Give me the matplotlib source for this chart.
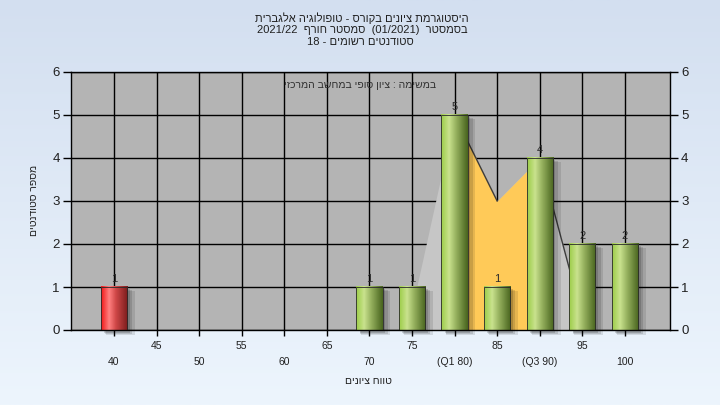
import numpy as np
import matplotlib
matplotlib.use("Agg")
import matplotlib.pyplot as plt
from matplotlib.patches import Rectangle
from matplotlib.colors import LinearSegmentedColormap

plt.rcParams['font.family'] = ['Liberation Sans', 'DejaVu Sans']

# ---------------- data ----------------
categories = [40, 45, 50, 55, 60, 65, 70, 75, 80, 85, 90, 95, 100]
counts = [1, 0, 0, 0, 0, 0, 1, 1, 5, 1, 4, 2, 2]
tick_labels = ['40', '45', '50', '55', '60', '65', '70', '75',
               '(Q1 80)', '85', '(Q3 90)', '95', '100']
fail_limit = 55
area_x = [75, 80, 85, 90, 95]
area_y = [0.5, 5, 3, 4, 0.3]
q1, q3 = 80, 90
yticks = [0, 1, 2, 3, 4, 5, 6]

title_l1 = "היסטוגרמת ציונים בקורס - טופולוגיה אלגברית"
title_l2_parts = ["בסמסטר", "(01/2021)", "סמסטר חורף", "2021/22"]
title_l3_parts = ["סטודנטים רשומים", "-", "18"]
note = "במשימה : ציון סופי במחשב המרכזי"
xlabel = "טווח ציונים"
ylabel = "מספר סטודנטים"


def rtl(s):
    """visual order for a pure Hebrew phrase (matplotlib has no bidi)"""
    return s[::-1]


def rtl_mixed(parts, sep="  "):
    """RTL paragraph built from logical segments; Latin/number segments kept."""
    out = []
    for p in reversed(parts):
        if any('\u0590' <= ch <= '\u05ff' for ch in p):
            out.append(p[::-1])
        else:
            out.append(p)
    return sep.join(out)


W, H = 720, 405
fig = plt.figure(figsize=(W / 100, H / 100), dpi=100)

# background gradient
bg = fig.add_axes([0, 0, 1, 1], zorder=-10)
grad = np.linspace(0, 1, 256).reshape(-1, 1)
bg_cmap = LinearSegmentedColormap.from_list('bg', ['#d3dff0', '#edf5fd'])
bg.imshow(grad, aspect='auto', cmap=bg_cmap, extent=[0, 1, 0, 1], origin='upper')
bg.axis('off')

ax = fig.add_axes([71 / W, 1 - 330 / H, (670 - 71) / W, (330 - 72) / H])
ax.set_facecolor('#b4b4b4')

xpos = np.arange(len(categories))
idx = {c: i for i, c in enumerate(categories)}

# grid
for y in yticks:
    ax.axhline(y, color='black', lw=1.0, zorder=1)
for x in xpos:
    ax.axvline(x, color='black', lw=1.0, zorder=1)

# area (distribution) shapes
ax_x = np.array([idx[c] for c in area_x], dtype=float)
ax_y = np.array(area_y, dtype=float)
ax.fill_between(ax_x, 0, ax_y, color='#c6c6c6', lw=0, zorder=1.5)
mask_x = (ax_x >= idx[q1]) & (ax_x <= idx[q3])
ax.fill_between(ax_x[mask_x], 0, ax_y[mask_x], color='#ffca58', lw=0, zorder=1.6)
ax.plot(ax_x[1:3], ax_y[1:3], color='#3c3c3c', lw=1.0, zorder=1.7)
ax.plot(ax_x[3:5], ax_y[3:5], color='#3c3c3c', lw=1.0, zorder=1.7)

# bars with gradient + shadow
green = LinearSegmentedColormap.from_list(
    'g', [(0, '#9ccd48'), (0.3, '#c9e28e'), (0.55, '#98b360'), (1, '#48641e')])
red = LinearSegmentedColormap.from_list(
    'r', [(0, '#f01818'), (0.3, '#ff8080'), (0.55, '#d04848'), (1, '#7a1c1c')])
bw = 0.62
hgrad = np.linspace(0, 1, 64).reshape(1, -1)
for x, c, v in zip(xpos, categories, counts):
    if v <= 0:
        continue
    # soft shadow
    for k, a in enumerate([0.10, 0.12, 0.15]):
        off = 0.09 - k * 0.02
        ax.add_patch(Rectangle((x - bw / 2 + off + 0.03, -0.12 + k * 0.03),
                               bw + 0.06 - k * 0.04, v + 0.02,
                               color='black', alpha=a, lw=0, zorder=2, clip_on=False))
    cmap = red if c < fail_limit else green
    ax.imshow(hgrad, cmap=cmap, aspect='auto', zorder=3,
              extent=[x - bw / 2, x + bw / 2, 0, v], interpolation='bilinear')
    ax.add_patch(Rectangle((x - bw / 2, 0), bw, v, fill=False,
                           edgecolor='#2a2a2a', lw=0.6, zorder=3.1))
    ax.text(x, v + 0.08, str(v), ha='center', va='bottom', fontsize=8,
            color='#2b2b2b', zorder=4)

ax.set_xlim(-1.01, 13.06)
ax.set_ylim(0, 6)

# axes styling
for s in ax.spines.values():
    s.set_color('black')
    s.set_linewidth(1.0)
    s.set_zorder(5)
ax.set_yticks(yticks)
ax.set_yticklabels([str(v) for v in yticks], fontsize=9.5, color='#202020')
ax.tick_params(axis='y', direction='out', length=6, width=1, color='black',
               right=True, labelright=True, pad=2)
ax.set_xticks(xpos)
ax.set_xticklabels([])
ax.tick_params(axis='x', direction='out', length=4, width=1, color='black')

# staggered x tick labels (two rows)
for x, lab in zip(xpos, tick_labels):
    yy = -16 / 258 if x % 2 == 1 else -32 / 258
    ax.text(x, yy, lab, transform=ax.get_xaxis_transform(), fontsize=7.5,
            ha='center', va='center', color='#202020')

# titles and labels
fig.text(362 / W, 1 - 18 / H, rtl(title_l1), ha='center', va='center',
         fontsize=8, color='#202020')
fig.text(362 / W, 1 - 30 / H, rtl_mixed(title_l2_parts), ha='center', va='center',
         fontsize=8, color='#202020')
fig.text(360 / W, 1 - 42 / H, rtl_mixed(title_l3_parts, sep=" "), ha='center',
         va='center', fontsize=8, color='#202020')
fig.text(360 / W, 1 - 85 / H, rtl(note), ha='center', va='center',
         fontsize=7.5, color='#303030', zorder=20)
fig.text(368 / W, 1 - 381 / H, rtl(xlabel), ha='center', va='center',
         fontsize=7.5, color='#202020')
fig.text(34 / W, 1 - 200 / H, rtl(ylabel), ha='center', va='center',
         rotation=90, fontsize=7.5, color='#202020')

fig.savefig('out.png', dpi=100)
